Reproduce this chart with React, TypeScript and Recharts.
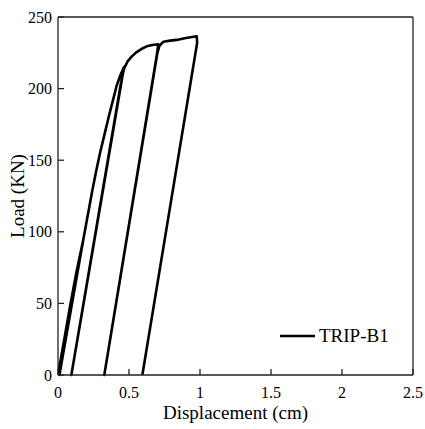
import React from 'react';
import { LineChart, Line, XAxis, YAxis, Legend } from 'recharts';

const seriesName = 'TRIP-B1';
const displacement = [
  0, 0.085, 0.178, 0.01,
  0.03, 0.061, 0.085, 0.13, 0.178, 0.24, 0.27, 0.296, 0.325, 0.359, 0.39, 0.413, 0.44, 0.465,
  0.094,
  0.44, 0.465, 0.49, 0.52, 0.554, 0.59, 0.625, 0.665, 0.706,
  0.70, 0.326,
  0.70, 0.715, 0.742, 0.79, 0.836, 0.9, 0.977,
  0.98, 0.594,
];
const load = [
  0, 48, 94.5, 0,
  15, 31.5, 48, 72, 94.5, 128, 143, 155, 167, 181, 193, 202, 209.5, 215,
  0,
  202, 214, 219, 222.5, 225.5, 227.8, 229.5, 230.5, 231,
  226, 0,
  225, 230, 232.7, 233.5, 234, 235.3, 236.5,
  232, 0,
];
const xTicks = [0, 0.5, 1, 1.5, 2, 2.5];
const yTicks = [0, 50, 100, 150, 200, 250];

const data = displacement.map((x, i) => ({ x, y: load[i] }));

const FONT = "'Liberation Serif', 'Times New Roman', Times, 'Nimbus Roman', 'DejaVu Serif', serif";
const AXIS = '#222';

const renderLegend = (props: any) => {
  const item = (props.payload || [])[0];
  return (
    <div style={{ display: 'flex', alignItems: 'center', fontFamily: FONT, fontSize: 19, color: '#000' }}>
      <svg width={36} height={10} style={{ marginRight: 3 }}>
        <line x1={0} y1={5} x2={35} y2={5} stroke="#000" strokeWidth={2.5} />
      </svg>
      <span>{item ? item.value : seriesName}</span>
    </div>
  );
};

export default function App() {
  return (
    <div style={{ position: 'absolute', left: 0, top: 0, fontFamily: FONT }}>
      <LineChart width={425} height={429} data={data} margin={{ top: 0, right: 0, bottom: 0, left: 0 }}>
        <XAxis
          xAxisId="bottom"
          dataKey="x"
          type="number"
          domain={[0, 2.5]}
          ticks={xTicks}
          orientation="bottom"
          height={54}
          tickSize={-6}
          tickMargin={18}
          stroke={AXIS}
          strokeWidth={1.3}
          tick={{ fill: '#000', fontSize: 16, fontFamily: FONT }}
          label={{
            content: (p: any) => {
              const vb = p.viewBox || {};
              return (
                <text x={vb.x + vb.width / 2} y={419} textAnchor="middle" style={{ fontFamily: FONT }} fontSize={19} fill="#000">
                  Displacement (cm)
                </text>
              );
            },
          }}
          allowDataOverflow
        />
        <XAxis
          xAxisId="top"
          dataKey="x"
          type="number"
          domain={[0, 2.5]}
          ticks={xTicks}
          orientation="top"
          height={17}
          tickSize={-6}
          tick={false}
          stroke={AXIS}
          strokeWidth={1.3}
        />
        <YAxis
          yAxisId="left"
          type="number"
          domain={[0, 250]}
          ticks={yTicks}
          width={58}
          tickSize={-6}
          tickMargin={12}
          stroke={AXIS}
          strokeWidth={1.3}
          tick={{ fill: '#000', fontSize: 16, fontFamily: FONT }}
          label={{
            content: (p: any) => {
              const vb = p.viewBox || {};
              const cy = vb.y + vb.height / 2;
              return (
                <text x={17} y={cy} transform={`rotate(-90 17 ${cy})`} textAnchor="middle" dominantBaseline="central" style={{ fontFamily: FONT }} fontSize={19} fill="#000">
                  Load (KN)
                </text>
              );
            },
          }}
        />
        <YAxis
          yAxisId="right"
          orientation="right"
          type="number"
          domain={[0, 250]}
          ticks={yTicks}
          width={12}
          tickSize={-6}
          tick={false}
          stroke={AXIS}
          strokeWidth={1.3}
        />
        <Legend
          layout="horizontal"
          verticalAlign="middle"
          align="center"
          content={renderLegend}
          wrapperStyle={{ position: 'absolute', left: 280, top: 325, width: 'auto' }}
        />
        <Line
          xAxisId="bottom"
          yAxisId="left"
          name={seriesName}
          dataKey="y"
          type="linear"
          stroke="#000"
          strokeWidth={2.6}
          dot={false}
          isAnimationActive={false}
          strokeLinejoin="round"
        />
      </LineChart>
    </div>
  );
}
